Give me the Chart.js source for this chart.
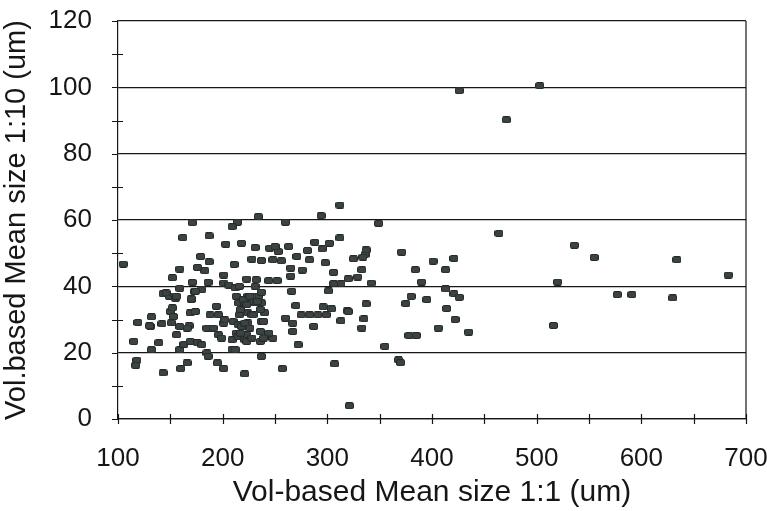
<!DOCTYPE html>
<html>
<head>
<meta charset="utf-8">
<script src="https://cdn.jsdelivr.net/npm/chart.js@4/dist/chart.umd.min.js"></script>
<style>
  html, body { margin: 0; padding: 0; background: #fff; }
  #wrap { width: 767px; height: 511px; }
</style>
</head>
<body>
<div id="wrap"><canvas id="sizeChart" width="767" height="511"></canvas></div>
<script>
// Mean size pairs: 1:1 dilution (x) vs 1:10 dilution (y), both in um
const size11 = [
  426, 503, 471, 349, 464, 371, 536, 555, 634, 683, 401, 421, 384, 413, 390, 520, 413, 421, 426, 380,
  375, 395, 577, 591, 630, 414, 422, 406, 516, 378, 385, 435, 355,
  321, 257, 221, 237, 307, 368, 370, 272, 337, 335, 333, 319, 313, 287, 301, 270, 296, 304, 275, 283,
  291, 299, 260, 267, 267, 266, 312, 294, 234, 260, 214, 209, 288, 295, 231, 253, 283, 298, 312, 336,
  245, 250, 263, 281, 276, 265, 271, 302, 334, 337, 333, 329, 325, 320, 313, 306, 342, 306, 218, 228,
  237, 248, 256, 265, 320,
  171, 162, 187, 203, 179, 187, 176, 183, 159, 152, 105, 201, 211, 171, 186, 201, 206, 159, 143, 149,
  173, 155, 170, 212,
  132, 119, 131, 142, 115, 139, 132, 118, 117, 143, 159, 166, 160, 163, 169, 176, 180, 185, 186, 195,
  201, 209, 156, 168, 166, 150, 153, 152, 169, 174, 159, 185, 191, 194, 196, 201, 202, 188, 196, 199,
  210, 209, 213, 146, 156, 170, 180, 174, 151, 130,
  223, 232, 244, 252, 216, 213, 224, 234, 231, 215, 226, 221, 229, 237, 216, 224, 240, 215, 224, 237,
  236, 244, 248, 215, 221, 236, 212, 218, 223, 217, 228, 220, 228, 232, 223, 228, 226, 233, 223, 236,
  229, 239, 221, 226, 244, 239, 217, 237
];
const size110 = [
  99.0, 100.5, 90.2, 59.0, 56.0, 50.3, 52.4, 48.7, 48.0, 43.4, 47.6, 48.4, 45.0, 45.0, 41.3, 41.3, 39.2, 37.8, 36.7, 37.0,
  34.8, 36.0, 37.5, 37.5, 36.5, 33.3, 30.0, 27.4, 28.2, 25.2, 25.2, 26.2, 21.9,
  4.0, 15.2, 13.6, 18.9, 16.6, 17.8, 17.0, 22.4, 34.7, 30.2, 27.4, 32.6, 29.6, 27.9, 38.6, 34.2, 33.8, 33.2, 31.4, 31.4,
  31.4, 31.4, 30.4, 28.9, 26.4, 38.5, 64.5, 61.3, 61.0, 59.3, 59.3, 58.0, 53.3, 51.3, 51.7, 50.5, 48.0, 47.1, 54.6, 49.6,
  51.5, 52.0, 52.0, 50.8, 44.9, 43.1, 49.0, 53.0, 48.8, 51.0, 45.0, 42.8, 48.3, 42.3, 40.8, 40.8, 41.0, 44.2, 53.0, 48.2,
  47.8, 48.0, 47.7, 45.5, 32.4,
  59.2, 54.7, 55.2, 52.7, 49.0, 47.4, 45.7, 44.7, 45.2, 42.6, 46.7, 43.4, 46.6, 41.2, 41.2, 41.0, 40.4, 39.4, 37.8, 37.0,
  38.4, 36.4, 36.0, 39.5,
  30.8, 29.1, 27.9, 28.7, 23.4, 23.0, 20.9, 17.7, 16.2, 13.9, 20.9, 16.9, 15.2, 22.5, 23.4, 23.0, 22.4, 19.9, 18.9, 16.9,
  15.2, 21.0, 25.4, 28.1, 27.4, 32.4, 30.9, 33.5, 32.0, 32.4, 27.9, 27.4, 27.4, 34.0, 31.4, 28.9, 29.9, 31.4, 25.4, 24.4,
  29.4, 23.9, 25.9, 38.0, 37.0, 36.2, 39.0, 38.5, 29.0, 28.1,
  42.2, 42.0, 41.7, 41.7, 40.0, 37.0, 37.0, 37.0, 40.0, 35.0, 35.0, 35.0, 35.4, 35.0, 31.4, 32.0, 32.0, 28.4, 29.0, 29.4,
  26.4, 24.9, 24.4, 24.9, 23.9, 23.4, 20.9, 27.9, 25.4, 33.0, 31.4, 36.0, 37.0, 35.0, 23.4, 24.4, 37.0, 35.4, 34.5, 33.0,
  31.4, 29.4, 28.9, 27.4, 25.9, 24.4, 25.9, 38.2
];

const xTitle = 'Vol-based Mean size 1:1 (um)';
const yTitle = 'Vol.based Mean size 1:10 (um)';

const FONT = '"Liberation Sans", Arial, sans-serif';
const INK = '#161616';

// small dark rounded rectangle used as the point marker
const makeMarker = () => {
  const c = document.createElement('canvas');
  c.width = 9;
  c.height = 7;
  const g = c.getContext('2d');
  g.fillStyle = '#3c4343';
  g.strokeStyle = '#262a2a';
  g.lineWidth = 1;
  g.beginPath();
  g.roundRect(0.5, 0.5, 8, 6, 1.5);
  g.fill();
  g.stroke();
  return c;
};

// crossing tick marks on both axes plus the right frame line
const axisMarks = {
  id: 'axisMarks',
  afterDraw(chart) {
    const { ctx, chartArea, scales } = chart;
    ctx.save();
    ctx.strokeStyle = INK;
    ctx.lineWidth = 1.2;
    ctx.beginPath();
    for (let v = 100; v <= 700; v += 50) {
      const px = Math.round(scales.x.getPixelForValue(v)) + 0.5;
      ctx.moveTo(px, chartArea.bottom - 5);
      ctx.lineTo(px, chartArea.bottom + 5);
    }
    for (let v = 0; v <= 120; v += 10) {
      const py = Math.round(scales.y.getPixelForValue(v)) + 0.5;
      ctx.moveTo(chartArea.left - 6, py);
      ctx.lineTo(chartArea.left + (v % 20 === 0 ? 0 : 5), py);
    }
    ctx.moveTo(chartArea.right, chartArea.top);
    ctx.lineTo(chartArea.right, chartArea.bottom);
    ctx.stroke();
    ctx.restore();
  }
};

// fixed box sizes so the plot area lands where the layout padding puts it
const fixBox = (size) => (s) => {
  if (s.isHorizontal()) s.height = size; else s.width = size;
  s.paddingTop = 0;
  s.paddingBottom = 0;
  s.paddingLeft = 0;
  s.paddingRight = 0;
};

const points = size11.map((x, i) => ({ x, y: size110[i] }));

new Chart(document.getElementById('sizeChart'), {
  type: 'scatter',
  data: {
    datasets: [{
      data: points,
      pointStyle: makeMarker(),
      pointRadius: 4,
      pointHoverRadius: 4
    }]
  },
  options: {
    responsive: false,
    animation: false,
    events: [],
    layout: { padding: { top: 21, right: 21, left: 0, bottom: 0 } },
    plugins: { legend: { display: false }, tooltip: { enabled: false } },
    scales: {
      x: {
        type: 'linear',
        min: 100,
        max: 700,
        afterFit: fixBox(92),
        ticks: { stepSize: 100, color: INK, padding: 24, maxRotation: 0, font: { family: FONT, size: 26 } },
        grid: { display: false, drawTicks: false },
        border: { display: true, color: INK, width: 1.2 },
        title: { display: true, text: xTitle, color: INK, padding: { top: 0, bottom: 0 }, font: { family: FONT, size: 30 } }
      },
      y: {
        type: 'linear',
        min: 0,
        max: 120,
        afterFit: fixBox(118),
        ticks: { stepSize: 20, color: INK, padding: 26, font: { family: FONT, size: 26 } },
        grid: { color: INK, lineWidth: 1.2, drawTicks: false },
        border: { display: true, color: INK, width: 1.2 },
        title: { display: true, text: yTitle, color: INK, padding: { top: 0, bottom: 0 }, font: { family: FONT, size: 29 } }
      }
    }
  },
  plugins: [axisMarks]
});
</script>
</body>
</html>
